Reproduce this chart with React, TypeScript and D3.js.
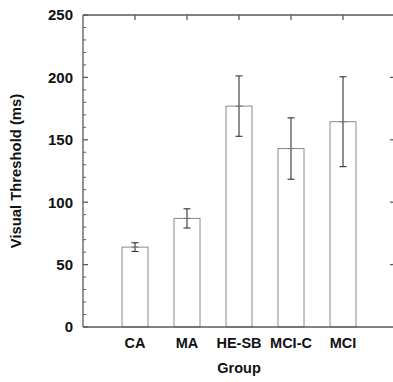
import { useEffect, useRef } from 'react';
import * as d3 from 'd3';

const groups = ["CA", "MA", "HE-SB", "MCI-C", "MCI"];
const means = [64, 87, 177, 143, 164.5];
const errors = [3.5, 7.7, 24.2, 24.6, 36];
const yTicks = [0, 50, 100, 150, 200, 250];

const W = 393;
const H = 382;
const margin = { top: 15, right: -2, bottom: 55, left: 83 };

export default function App() {
    const svgRef = useRef<SVGSVGElement>(null);

    useEffect(() => {
        if (!svgRef.current) return;
        const svg = d3.select(svgRef.current);
        svg.selectAll("*").remove();

        const x = d3.scaleLinear()
            .domain([0, groups.length + 1])
            .range([margin.left, W - margin.right]);
        const y = d3.scaleLinear()
            .domain([0, 250])
            .range([H - margin.bottom, margin.top]);

        const axisColor = "#5a5a5a";
        const textColor = "#111";
        const font = "'Liberation Sans', Arial, sans-serif";
        const barW = 26;

        // bars
        svg.selectAll(".bar")
            .data(groups)
            .enter()
            .append("rect")
            .attr("x", (d, i) => x(i + 1) - barW / 2)
            .attr("y", (d, i) => y(means[i]))
            .attr("width", barW)
            .attr("height", (d, i) => y(0) - y(means[i]))
            .attr("fill", "#fff")
            .attr("stroke", "#8a8a8a")
            .attr("stroke-width", 1);

        // error bars
        const eb = svg.append("g").attr("stroke", "#333").attr("stroke-width", 1.1);
        groups.forEach((g, i) => {
            const cx = x(i + 1);
            eb.append("line").attr("x1", cx).attr("x2", cx)
                .attr("y1", y(means[i] + errors[i])).attr("y2", y(means[i] - errors[i]));
            [means[i] + errors[i], means[i] - errors[i]].forEach(v => {
                eb.append("line").attr("x1", cx - 3.5).attr("x2", cx + 3.5)
                    .attr("y1", y(v)).attr("y2", y(v));
            });
            eb.append("line").attr("x1", cx - 3.5).attr("x2", cx + 3.5)
                .attr("y1", y(means[i])).attr("y2", y(means[i]))
                .attr("stroke", "#777");
        });

        // frame
        const ax = svg.append("g").attr("stroke", axisColor).attr("stroke-width", 1.3);
        ax.append("line").attr("x1", x(0)).attr("x2", x(0)).attr("y1", y(0)).attr("y2", y(250));
        ax.append("line").attr("x1", x(0)).attr("x2", W).attr("y1", y(0)).attr("y2", y(0));
        ax.append("line").attr("x1", x(0)).attr("x2", W).attr("y1", y(250)).attr("y2", y(250));

        // left ticks: major every 50, minor every 10
        d3.range(0, 251, 10).forEach(v => {
            const major = v % 50 === 0;
            ax.append("line")
                .attr("x1", x(0)).attr("x2", x(0) + (major ? 5 : 3))
                .attr("y1", y(v)).attr("y2", y(v))
                .attr("stroke-width", major ? 1.3 : 1);
        });
        // right ticks
        yTicks.slice(1, -1).forEach(v => {
            ax.append("line")
                .attr("x1", x(groups.length + 1)).attr("x2", x(groups.length + 1) - 5)
                .attr("y1", y(v)).attr("y2", y(v));
        });
        // top ticks
        groups.forEach((g, i) => {
            ax.append("line")
                .attr("x1", x(i + 1)).attr("x2", x(i + 1))
                .attr("y1", y(250)).attr("y2", y(250) + 5);
        });

        // y tick labels
        svg.selectAll(".ylab")
            .data(yTicks)
            .enter()
            .append("text")
            .attr("x", x(0) - 10)
            .attr("y", d => y(d))
            .attr("dy", "0.36em")
            .attr("text-anchor", "end")
            .style("font-family", font)
            .style("font-weight", "bold")
            .style("font-size", "15px")
            .style("fill", textColor)
            .text(d => d);

        // x labels
        svg.selectAll(".xlab")
            .data(groups)
            .enter()
            .append("text")
            .attr("x", (d, i) => x(i + 1))
            .attr("y", 348)
            .attr("text-anchor", "middle")
            .style("font-family", font)
            .style("font-weight", "bold")
            .style("font-size", "14.5px")
            .style("fill", textColor)
            .text(d => d);

        svg.append("text")
            .attr("x", 239)
            .attr("y", 373)
            .attr("text-anchor", "middle")
            .style("font-family", font)
            .style("font-weight", "bold")
            .style("font-size", "14.5px")
            .style("fill", textColor)
            .text("Group");

        svg.append("text")
            .attr("transform", `translate(21,${(y(0) + y(250)) / 2}) rotate(-90)`)
            .attr("text-anchor", "middle")
            .style("font-family", font)
            .style("font-weight", "bold")
            .style("font-size", "14.8px")
            .style("fill", textColor)
            .text("Visual Threshold (ms)");
    }, []);

    return (
        <svg
            ref={svgRef}
            width={W}
            height={H}
            style={{ position: "absolute", left: 0, top: 0, background: "#fff" }}
        />
    );
}
